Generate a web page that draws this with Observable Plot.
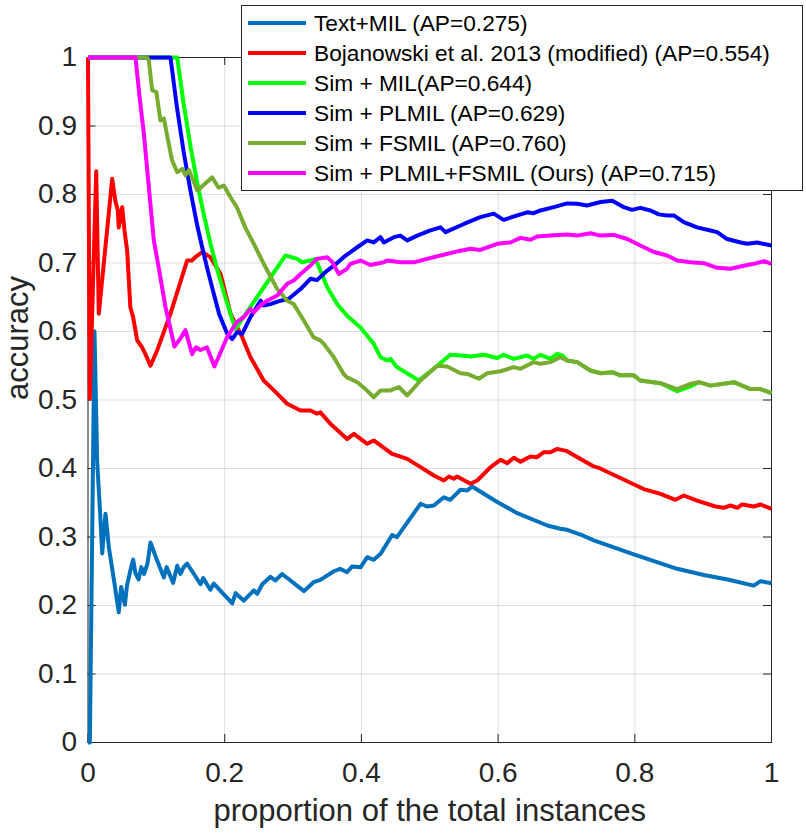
<!DOCTYPE html>
<html><head><meta charset="utf-8">
<script src="https://cdn.jsdelivr.net/npm/d3@7"></script>
<script src="https://cdn.jsdelivr.net/npm/@observablehq/plot@0.6"></script>
<style>
body{margin:0;background:#fff;}
#wrap{position:relative;width:806px;height:834px;font-family:"Liberation Sans",Arial,Helvetica,sans-serif;}
#legend{position:absolute;left:241px;top:5px;width:562px;height:186px;border:1px solid #262626;background:#fff;box-sizing:border-box;}
.row{position:absolute;left:0;height:30px;display:flex;align-items:center;}
.sw{width:58px;height:4px;margin-left:6px;margin-right:8px;}
.lbl{font-size:22.7px;color:#000;white-space:nowrap;}
</style></head>
<body><div id="wrap"></div>
<script>
const xTicks = [0, 0.2, 0.4, 0.6, 0.8, 1];
const xTickLabels = ["0", "0.2", "0.4", "0.6", "0.8", "1"];
const yTicks = [0, 0.1, 0.2, 0.3, 0.4, 0.5, 0.6, 0.7, 0.8, 0.9, 1];
const yTickLabels = ["0", "0.1", "0.2", "0.3", "0.4", "0.5", "0.6", "0.7", "0.8", "0.9", "1"];
const xLabel = "proportion of the total instances";
const yLabel = "accuracy";

const seriesNames = [
  "Text+MIL (AP=0.275)",
  "Bojanowski et al. 2013 (modified) (AP=0.554)",
  "Sim + MIL(AP=0.644)",
  "Sim + PLMIL (AP=0.629)",
  "Sim + FSMIL (AP=0.760)",
  "Sim + PLMIL+FSMIL (Ours) (AP=0.715)"
];
const seriesColors = ["#0072BD", "#FF0000", "#00FF00", "#0000FF", "#77AC30", "#FF00FF"];

const textMIL = [[0,0],[0.0027,0],[0.0095,0.60],[0.0134,0.41],[0.018,0.33],[0.0208,0.276],[0.0256,0.334],[0.0305,0.285],[0.038,0.237],[0.045,0.190],[0.0485,0.227],[0.054,0.201],[0.057,0.229],[0.062,0.251],[0.066,0.267],[0.0695,0.247],[0.074,0.238],[0.078,0.256],[0.082,0.246],[0.087,0.261],[0.0914,0.292],[0.101,0.266],[0.111,0.241],[0.115,0.256],[0.1246,0.233],[0.1305,0.258],[0.1353,0.246],[0.140,0.256],[0.145,0.261],[0.155,0.246],[0.1646,0.231],[0.1685,0.240],[0.179,0.223],[0.184,0.232],[0.211,0.203],[0.216,0.218],[0.228,0.207],[0.2426,0.222],[0.2475,0.217],[0.255,0.231],[0.267,0.242],[0.274,0.2365],[0.284,0.246],[0.316,0.221],[0.330,0.234],[0.340,0.2375],[0.3597,0.250],[0.369,0.2535],[0.379,0.2486],[0.3865,0.257],[0.399,0.256],[0.4085,0.2705],[0.418,0.2667],[0.428,0.2754],[0.445,0.303],[0.452,0.2997],[0.4865,0.3485],[0.496,0.3445],[0.506,0.346],[0.5206,0.358],[0.530,0.3543],[0.545,0.369],[0.555,0.368],[0.562,0.3737],[0.5987,0.351],[0.628,0.3348],[0.672,0.3168],[0.691,0.312],[0.701,0.3105],[0.7206,0.3036],[0.740,0.295],[0.7985,0.2745],[0.862,0.2536],[0.901,0.2445],[0.9375,0.2375],[0.974,0.229],[0.984,0.2355],[1.0,0.2326]];

const bojanowski = [[0,1.0],[0.0026,0.502],[0.012,0.834],[0.0158,0.626],[0.0354,0.823],[0.040,0.791],[0.0436,0.777],[0.045,0.752],[0.050,0.7815],[0.0534,0.7475],[0.0573,0.718],[0.062,0.635],[0.066,0.621],[0.072,0.587],[0.079,0.577],[0.084,0.567],[0.0914,0.550],[0.101,0.572],[0.1207,0.626],[0.145,0.7036],[0.152,0.7036],[0.157,0.7085],[0.167,0.716],[0.179,0.7085],[0.194,0.684],[0.2085,0.626],[0.2256,0.5917],[0.2377,0.5625],[0.257,0.5285],[0.272,0.514],[0.2914,0.4945],[0.311,0.4847],[0.3255,0.4847],[0.335,0.480],[0.340,0.482],[0.355,0.465],[0.379,0.443],[0.389,0.4506],[0.4085,0.436],[0.418,0.441],[0.445,0.4215],[0.467,0.414],[0.4865,0.402],[0.506,0.3898],[0.5206,0.3825],[0.528,0.3883],[0.535,0.385],[0.540,0.3883],[0.5596,0.3777],[0.5695,0.3825],[0.589,0.402],[0.6035,0.4127],[0.6133,0.4078],[0.623,0.4156],[0.6328,0.410],[0.6474,0.4175],[0.657,0.4165],[0.667,0.4238],[0.6767,0.4238],[0.6865,0.4287],[0.701,0.4253],[0.7206,0.414],[0.740,0.403],[0.747,0.401],[0.813,0.370],[0.8376,0.363],[0.8595,0.3543],[0.8717,0.3606],[0.891,0.353],[0.918,0.3445],[0.930,0.3426],[0.940,0.346],[0.950,0.3426],[0.957,0.3475],[0.974,0.3445],[0.984,0.3475],[1.0,0.341]];

const simMIL = [[0,1],[0.1305,1],[0.14,0.932],[0.15,0.870],[0.16,0.816],[0.17,0.768],[0.18,0.725],[0.19,0.687],[0.20,0.653],[0.21,0.621],[0.2158,0.604],[0.289,0.711],[0.306,0.706],[0.313,0.701],[0.3255,0.7036],[0.333,0.706],[0.350,0.6647],[0.3646,0.640],[0.379,0.623],[0.3987,0.606],[0.418,0.582],[0.428,0.5625],[0.4378,0.5577],[0.4426,0.560],[0.452,0.548],[0.484,0.5285],[0.511,0.550],[0.530,0.566],[0.545,0.565],[0.5596,0.5635],[0.579,0.566],[0.5987,0.5613],[0.608,0.566],[0.623,0.560],[0.6426,0.565],[0.652,0.560],[0.662,0.566],[0.6767,0.560],[0.6865,0.5674],[0.694,0.565],[0.701,0.5577],[0.7157,0.5553],[0.735,0.543],[0.7498,0.539],[0.767,0.5406],[0.779,0.536],[0.7985,0.536],[0.808,0.5285],[0.8376,0.5245],[0.862,0.513],[0.8815,0.520],[0.8937,0.526],[0.9107,0.521],[0.945,0.526],[0.969,0.516],[0.984,0.516],[1.0,0.510]];

const simPLMIL = [[0,1],[0.1207,1],[0.13,0.928],[0.14,0.862],[0.15,0.805],[0.16,0.754],[0.167,0.723],[0.175,0.69],[0.184,0.655],[0.192,0.625],[0.2036,0.597],[0.211,0.589],[0.218,0.599],[0.2256,0.5966],[0.2377,0.621],[0.2524,0.645],[0.257,0.638],[0.267,0.640],[0.2816,0.645],[0.2938,0.6477],[0.311,0.662],[0.3255,0.677],[0.335,0.675],[0.350,0.689],[0.3597,0.696],[0.374,0.7085],[0.384,0.716],[0.394,0.723],[0.4085,0.733],[0.418,0.730],[0.428,0.7377],[0.4328,0.730],[0.4475,0.7377],[0.457,0.740],[0.467,0.733],[0.4816,0.740],[0.501,0.7475],[0.5157,0.752],[0.523,0.745],[0.550,0.757],[0.574,0.767],[0.5937,0.772],[0.608,0.763],[0.628,0.7694],[0.6426,0.774],[0.652,0.7727],[0.662,0.7767],[0.6815,0.7815],[0.701,0.787],[0.7157,0.7864],[0.730,0.784],[0.750,0.789],[0.767,0.791],[0.784,0.7815],[0.796,0.7776],[0.808,0.7805],[0.823,0.7767],[0.835,0.771],[0.8474,0.7694],[0.857,0.7694],[0.8717,0.7596],[0.891,0.752],[0.9107,0.7475],[0.9205,0.745],[0.935,0.735],[0.955,0.730],[0.9645,0.728],[0.979,0.730],[1.0,0.7255]];

const simFSMIL = [[0,1],[0.0866,1],[0.089,0.9956],[0.094,0.952],[0.100,0.9496],[0.106,0.908],[0.111,0.911],[0.1168,0.881],[0.123,0.850],[0.1305,0.8326],[0.138,0.8375],[0.1426,0.828],[0.1475,0.836],[0.160,0.806],[0.1817,0.825],[0.191,0.810],[0.1987,0.813],[0.2085,0.796],[0.218,0.781],[0.230,0.752],[0.2426,0.728],[0.257,0.699],[0.2768,0.662],[0.2914,0.645],[0.301,0.640],[0.3157,0.616],[0.330,0.5917],[0.340,0.587],[0.345,0.582],[0.3597,0.5625],[0.374,0.538],[0.379,0.533],[0.389,0.5285],[0.394,0.526],[0.406,0.516],[0.418,0.504],[0.428,0.514],[0.4426,0.514],[0.4548,0.519],[0.467,0.5066],[0.4865,0.5285],[0.511,0.550],[0.5255,0.549],[0.545,0.539],[0.555,0.538],[0.5718,0.531],[0.584,0.539],[0.6035,0.542],[0.623,0.548],[0.6328,0.5455],[0.652,0.5553],[0.662,0.5528],[0.6767,0.5553],[0.691,0.5625],[0.701,0.5577],[0.7157,0.5553],[0.735,0.543],[0.7498,0.539],[0.767,0.5406],[0.779,0.536],[0.7985,0.536],[0.808,0.5285],[0.8376,0.5245],[0.862,0.516],[0.8815,0.5236],[0.8937,0.526],[0.9107,0.521],[0.945,0.526],[0.969,0.516],[0.984,0.516],[1.0,0.510]];

const ours = [[0,1],[0.0695,1],[0.0757,0.94],[0.0817,0.889],[0.090,0.80],[0.0963,0.733],[0.104,0.69],[0.1134,0.6355],[0.120,0.607],[0.1265,0.578],[0.1353,0.590],[0.1426,0.602],[0.1524,0.567],[0.158,0.577],[0.1646,0.573],[0.174,0.577],[0.1767,0.570],[0.185,0.549],[0.2036,0.592],[0.218,0.614],[0.228,0.621],[0.2377,0.633],[0.2426,0.628],[0.2524,0.638],[0.262,0.645],[0.2768,0.6526],[0.2914,0.6696],[0.301,0.6745],[0.311,0.684],[0.3255,0.6964],[0.335,0.706],[0.350,0.7085],[0.357,0.702],[0.367,0.684],[0.379,0.6915],[0.384,0.6988],[0.3987,0.7036],[0.413,0.697],[0.4328,0.701],[0.4378,0.7036],[0.457,0.701],[0.4767,0.701],[0.496,0.706],[0.5157,0.711],[0.545,0.718],[0.5596,0.7207],[0.574,0.719],[0.5987,0.728],[0.618,0.730],[0.6328,0.7367],[0.6474,0.734],[0.657,0.7387],[0.6767,0.740],[0.701,0.7416],[0.7157,0.740],[0.735,0.7435],[0.750,0.740],[0.769,0.741],[0.789,0.735],[0.808,0.7255],[0.828,0.716],[0.8474,0.711],[0.862,0.7036],[0.8815,0.701],[0.901,0.6997],[0.9205,0.693],[0.940,0.6915],[0.9596,0.696],[0.974,0.6988],[0.989,0.7026],[1.0,0.6988]];

const allSeries = [textMIL, bojanowski, simMIL, simPLMIL, simFSMIL, ours];

const W = 806, H = 834, mL = 87.5, mR = 35, mT = 57, mB = 92;
const fw = W - mL - mR, fh = H - mT - mB, tl = 8;
const axisColor = "#262626";

const chart = Plot.plot({
  width: W, height: H,
  marginLeft: mL, marginRight: mR, marginTop: mT, marginBottom: mB,
  style: {fontFamily: "Liberation Sans, Arial, Helvetica, sans-serif", fontSize: "28px", color: axisColor, background: "#fff", overflow: "visible"},
  x: {domain: [0, 1]},
  y: {domain: [0, 1]},
  marks: [
    Plot.gridX(xTicks, {stroke: axisColor, strokeOpacity: 0.15, strokeWidth: 1}),
    Plot.gridY(yTicks, {stroke: axisColor, strokeOpacity: 0.15, strokeWidth: 1}),
    Plot.frame({stroke: axisColor, strokeWidth: 1}),
    Plot.tickX(xTicks, {x: d => d, stroke: axisColor, insetTop: fh - tl}),
    Plot.tickX(xTicks, {x: d => d, stroke: axisColor, insetBottom: fh - tl}),
    Plot.tickY(yTicks, {y: d => d, stroke: axisColor, insetRight: fw - tl}),
    Plot.tickY(yTicks, {y: d => d, stroke: axisColor, insetLeft: fw - tl}),
    Plot.axisX(xTicks, {tickSize: 0, tickPadding: 20, fontSize: 28, label: null, tickFormat: d => xTickLabels[xTicks.indexOf(d)]}),
    Plot.axisY(yTicks, {tickSize: 0, tickPadding: 11, fontSize: 28, label: null, tickFormat: d => yTickLabels[yTicks.indexOf(d)]}),
    Plot.text([xLabel], {text: d => d, frameAnchor: "bottom", dy: 78, fontSize: 31, fill: axisColor}),
    Plot.text([yLabel], {text: d => d, frameAnchor: "left", dx: -70, rotate: -90, fontSize: 31, fill: axisColor}),
    ...allSeries.map((s, i) => Plot.line(s, {x: d => d[0], y: d => d[1], stroke: seriesColors[i], strokeWidth: 4, strokeLinejoin: "round", strokeLinecap: "butt"}))
  ]
});

const wrap = document.getElementById("wrap");
wrap.appendChild(chart);

const legend = document.createElement("div");
legend.id = "legend";
seriesNames.forEach((name, i) => {
  const row = document.createElement("div");
  row.className = "row";
  row.style.top = (2 + 30 * i) + "px";
  const sw = document.createElement("div");
  sw.className = "sw";
  sw.style.background = seriesColors[i];
  const lbl = document.createElement("span");
  lbl.className = "lbl";
  lbl.textContent = name;
  row.appendChild(sw);
  row.appendChild(lbl);
  legend.appendChild(row);
});
wrap.appendChild(legend);
</script>
</body></html>
